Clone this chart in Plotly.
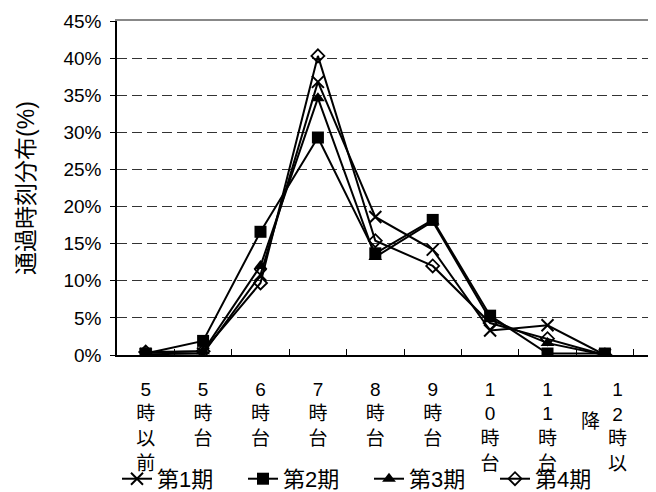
import plotly.graph_objects as go

categories = ["5時以前", "5時台", "6時台", "7時台", "8時台", "9時台", "10時台", "11時台", "12時以降"]
tick_labels = ["5<br>時<br>以<br>前", "5<br>時<br>台", "6<br>時<br>台", "7<br>時<br>台", "8<br>時<br>台",
               "9<br>時<br>台", "1<br>0<br>時<br>台", "1<br>1<br>時<br>台", ""]
last_label_main = "1<br>2<br>時<br>以"
last_label_side = "降"

series_names = ["第1期", "第2期", "第3期", "第4期"]
period1 = [0.1, 0.2, 10.8, 36.8, 18.6, 14.2, 3.3, 4.0, 0.0]
period2 = [0.2, 1.9, 16.6, 29.3, 13.7, 18.2, 5.3, 0.2, 0.2]
period3 = [0.3, 0.5, 12.0, 34.6, 13.2, 18.0, 4.8, 1.6, 0.0]
period4 = [0.4, 0.5, 9.7, 40.3, 15.4, 12.0, 4.3, 2.2, 0.0]

y_ticks = [0, 5, 10, 15, 20, 25, 30, 35, 40, 45]
y_tick_labels = [f"{v}%" for v in y_ticks]
y_title = "通過時刻分布(%)"

FONT = "Liberation Sans, Arial, Noto Sans CJK JP, sans-serif"

markers = [
    dict(symbol="x-thin-open", size=12, line=dict(width=2, color="black"), color="black"),
    dict(symbol="square", size=12, color="black"),
    dict(symbol="triangle-up", size=12, color="black"),
    dict(symbol="diamond-open", size=10, color="black", line=dict(width=1.8, color="black")),
]

fig = go.Figure()
for name, vals, mk in zip(series_names, [period1, period2, period3, period4], markers):
    fig.add_trace(go.Scatter(
        x=categories, y=vals, name=name, mode="lines+markers",
        line=dict(color="black", width=2), marker=mk,
    ))

# top frame line via overlay axis
fig.add_trace(go.Scatter(x=[], y=[], xaxis="x2", showlegend=False))

# The page body has an 8px margin, so the figure is sized to the visible area.
fig.update_layout(
    width=648, height=484,
    margin=dict(l=109, r=0, t=13, b=137, autoexpand=False),
    paper_bgcolor="white", plot_bgcolor="white",
    font=dict(family=FONT, size=19, color="black"),
    showlegend=True,
    legend=dict(orientation="h", x=0.0, xanchor="left", y=-0.371, yanchor="middle",
                entrywidth=81, entrywidthmode="pixels", font=dict(size=22),
                bgcolor="rgba(0,0,0,0)", itemwidth=30),
    xaxis=dict(
        type="category", range=[-0.5, 8.89],
        tickmode="array", tickvals=categories, ticktext=tick_labels,
        tickson="boundaries", ticks="inside", ticklen=6, tickcolor="black",
        showline=True, linecolor="black", linewidth=1.5,
        showgrid=False, zeroline=False, ticklabelstandoff=16,
        tickfont=dict(size=19),
    ),
    xaxis2=dict(
        overlaying="x", side="top", range=[0, 1], showline=True, linecolor="#888888",
        linewidth=1.5, showticklabels=False, ticks="", showgrid=False, zeroline=False,
    ),
    yaxis=dict(
        range=[0, 45], tickmode="array", tickvals=y_ticks, ticktext=y_tick_labels,
        ticks="outside", ticklen=5, tickcolor="black", ticklabelstandoff=5,
        showline=True, linecolor="black", linewidth=1.5,
        showgrid=True, gridcolor="#333333", griddash="10px,5px", gridwidth=1,
        zeroline=False, tickfont=dict(size=19),
        title=dict(text=y_title, font=dict(size=23), standoff=22),
    ),
    annotations=[
        dict(x=categories[-1], xref="x", xshift=13, y=-0.065, yref="paper", yanchor="top",
             text=last_label_main, showarrow=False, font=dict(size=19)),
        dict(x=categories[-1], xref="x", xshift=-14, y=-0.2, yref="paper", yanchor="middle",
             text=last_label_side, showarrow=False, font=dict(size=19)),
    ],
)

fig.write_html("out.html")
